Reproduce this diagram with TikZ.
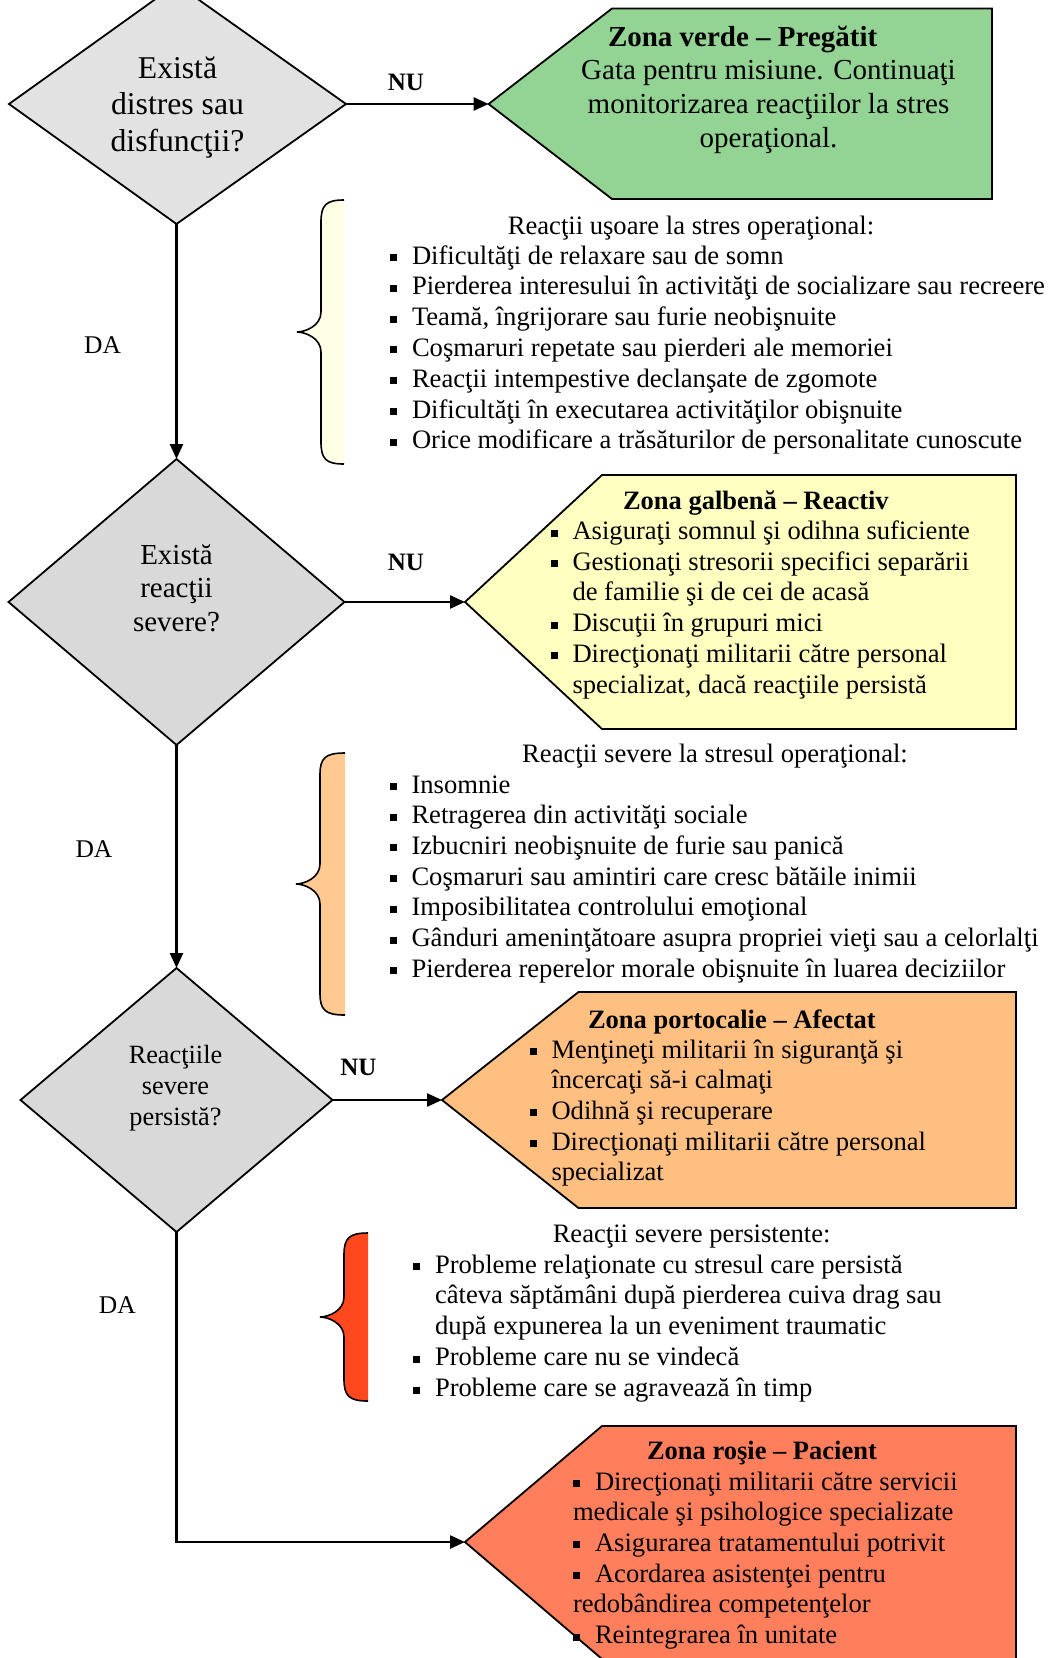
\documentclass[tikz,border=0pt]{standalone}
\usepackage{fontspec}
\setmainfont{Liberation Serif}
\usetikzlibrary{arrows.meta}
\definecolor{greyA}{RGB}{226,226,226}
\definecolor{greyB}{RGB}{217,217,217}
\definecolor{zgreen}{RGB}{147,211,148}
\definecolor{zyellow}{RGB}{255,255,192}
\definecolor{zorange}{RGB}{255,191,128}
\definecolor{zred}{RGB}{255,126,92}
\definecolor{bcream}{RGB}{255,255,230}
\definecolor{borange}{RGB}{255,201,145}
\definecolor{bred}{RGB}{255,72,30}
\newcommand\bul{\makebox[22pt][l]{\rule[3pt]{7pt}{7pt}}}
\newcommand\ind{\hspace*{22pt}}
\newcommand\Lblock[1]{\parbox[t]{700pt}{\raggedright #1}}
\newcommand\Cblock[2]{\parbox[t]{#1}{\centering #2}}
\newcommand\fsz[2]{\fontsize{#1}{#2}\selectfont}
\newcommand\mybrace[7]{%
  \fill[#1] (#2,#5) .. controls ({#3+5},#5) and (#3,{#5+5}) .. (#3,{#5+22})
    -- (#3,{#6-20}) .. controls (#3,{#6-6}) and ({#4+8},#6) .. (#4,#6)
    .. controls ({#4+8},#6) and (#3,{#6+6}) .. (#3,{#6+20})
    -- (#3,{#7-22}) .. controls (#3,{#7-5}) and ({#3+5},#7) .. (#2,#7) -- cycle;
  \draw[braceline] (#2,#5) .. controls ({#3+5},#5) and (#3,{#5+5}) .. (#3,{#5+22})
    -- (#3,{#6-20}) .. controls (#3,{#6-6}) and ({#4+8},#6) .. (#4,#6)
    .. controls ({#4+8},#6) and (#3,{#6+6}) .. (#3,{#6+20})
    -- (#3,{#7-22}) .. controls (#3,{#7-5}) and ({#3+5},#7) .. (#2,#7);
}
\tikzset{
  shapeline/.style={draw=black, line width=1.8pt, line join=miter},
  braceline/.style={draw=black, line width=1.6pt},
  conn/.style={line width=2.4pt, line join=miter, -{Triangle[length=15pt,width=13pt]}},
  txt/.style={inner sep=0pt, outer sep=0pt},
  nulbl/.style={txt, anchor=base, font=\bfseries\fsz{25}{29}},
  dalbl/.style={txt, anchor=base, font=\fsz{25.5}{29}},
  ztitle/.style={txt, anchor=base west, font=\bfseries\fsz{26.5}{30.7}},
  zlist/.style={txt, anchor=base west, font=\fsz{26.6}{30.7}},
}
\begin{document}
\begin{tikzpicture}[x=1pt,y=-1pt]
\useasboundingbox (0,0) rectangle (1048,1658);
\fill[white] (0,0) rectangle (1048,1658);
\clip (0,0) rectangle (1048,1658);

% ---------- coordinates ----------
\coordinate (d1t) at (176.5,-16);
\coordinate (d1r) at (346,104);
\coordinate (d1b) at (176.5,224);
\coordinate (d1l) at (9,104);
\coordinate (d2t) at (176.5,459);
\coordinate (d2r) at (344.5,602);
\coordinate (d2b) at (176.5,745);
\coordinate (d2l) at (8.5,602);
\coordinate (d3t) at (176.5,968);
\coordinate (d3r) at (332.5,1100);
\coordinate (d3b) at (176.5,1232);
\coordinate (d3l) at (20.5,1100);
\coordinate (gtip) at (488.6,104);
\coordinate (ytip) at (465,602);
\coordinate (otip) at (442,1100);
\coordinate (rtip) at (465,1542);
\coordinate (bend) at (176.5,1542);

% ---------- diamonds ----------
\draw[shapeline, fill=greyA] (d1t) -- (d1r) -- (d1b) -- (d1l) -- cycle;
\draw[shapeline, fill=greyB] (d2t) -- (d2r) -- (d2b) -- (d2l) -- cycle;
\draw[shapeline, fill=greyB] (d3t) -- (d3r) -- (d3b) -- (d3l) -- cycle;

% ---------- zone boxes ----------
\draw[shapeline, fill=zgreen] (gtip) -- (612,8.5) -- (992,8.5) -- (992,199) -- (612,199) -- cycle;
\draw[shapeline, fill=zyellow] (ytip) -- (602,475) -- (1016,475) -- (1016,729) -- (602,729) -- cycle;
\draw[shapeline, fill=zorange] (otip) -- (578.5,992) -- (1016,992) -- (1016,1208) -- (578.5,1208) -- cycle;
\draw[shapeline, fill=zred] (rtip) -- (602,1426) -- (1016,1426) -- (1016,1659) -- (602,1659) -- cycle;

% ---------- braces ----------
\mybrace{bcream}{344}{321}{297}{200}{332}{464}
\mybrace{borange}{345}{320}{296}{753}{884}{1015}
\mybrace{bred}{368}{344}{320}{1233}{1317}{1401}

% ---------- diamond texts ----------
\node[txt, anchor=base, font=\fsz{31.7}{36.6}] (q1) at (177.5,78) {\Cblock{330pt}{Există\\distres sau\\disfuncţii?}};
\node[txt, anchor=base, font=\fsz{29}{33.5}] (q2) at (176.5,564) {\Cblock{330pt}{Există\\reacţii\\severe?}};
\node[txt, anchor=base, font=\fsz{26.3}{31.2}] (q3) at (175.5,1063) {\Cblock{300pt}{Reacţiile\\severe\\persistă?}};

% ---------- labels ----------
\node[nulbl] (nu1) at (406,90) {NU};
\node[nulbl] (nu2) at (406,570) {NU};
\node[nulbl] (nu3) at (358.5,1075) {NU};
\node[dalbl] (da1) at (102.6,353) {DA};
\node[dalbl] (da2) at (94,857.5) {DA};
\node[dalbl] (da3) at (117.4,1313.5) {DA};

% ---------- green ----------
\node[txt, anchor=base west, font=\bfseries\fsz{29}{34}] (gt) at (608,46) {Zona verde – Pregătit};
\node[txt, anchor=base, font=\fsz{29}{34}] (gb) at (768.5,79) {\Cblock{420pt}{Gata pentru misiune. Continuaţi\\monitorizarea reacţiilor la stres\\operaţional.}};

% ---------- brace 1 text ----------
\node[txt, anchor=base, font=\fsz{26.6}{30.8}] (h1) at (691,234) {Reacţii uşoare la stres operaţional:};
\node[txt, anchor=base west, font=\fsz{26.6}{30.8}] (l1) at (390,264) {\Lblock{%
\bul Dificultăţi de relaxare sau de somn\\
\bul Pierderea interesului în activităţi de socializare sau recreere\\
\bul Teamă, îngrijorare sau furie neobişnuite\\
\bul Coşmaruri repetate sau pierderi ale memoriei\\
\bul Reacţii intempestive declanşate de zgomote\\
\bul Dificultăţi în executarea activităţilor obişnuite\\
\bul Orice modificare a trăsăturilor de personalitate cunoscute}};

% ---------- yellow ----------
\node[ztitle] (yt) at (623,509) {Zona galbenă – Reactiv};
\node[zlist] (yl) at (550.5,539.5) {\Lblock{%
\bul Asiguraţi somnul şi odihna suficiente\\
\bul Gestionaţi stresorii specifici separării\\
\ind de familie şi de cei de acasă\\
\bul Discuţii în grupuri mici\\
\bul Direcţionaţi militarii către personal\\
\ind specializat, dacă reacţiile persistă}};

% ---------- brace 2 text ----------
\node[txt, anchor=base, font=\fsz{26.6}{30.7}] (h2) at (715,762) {Reacţii severe la stresul operaţional:};
\node[txt, anchor=base west, font=\fsz{26.6}{30.7}] (l2) at (389.5,793) {\Lblock{%
\bul Insomnie\\
\bul Retragerea din activităţi sociale\\
\bul Izbucniri neobişnuite de furie sau panică\\
\bul Coşmaruri sau amintiri care cresc bătăile inimii\\
\bul Imposibilitatea controlului emoţional\\
\bul Gânduri ameninţătoare asupra propriei vieţi sau a celorlalţi\\
\bul Pierderea reperelor morale obişnuite în luarea deciziilor}};

% ---------- orange ----------
\node[ztitle] (ot) at (588,1028) {Zona portocalie – Afectat};
\node[zlist] (ol) at (529.5,1058) {\Lblock{%
\bul Menţineţi militarii în siguranţă şi\\
\ind încercaţi să-i calmaţi\\
\bul Odihnă şi recuperare\\
\bul Direcţionaţi militarii către personal\\
\ind specializat}};

% ---------- brace 3 text ----------
\node[txt, anchor=base, font=\fsz{26.6}{30.9}] (h3) at (691.6,1242) {Reacţii severe persistente:};
\node[txt, anchor=base west, font=\fsz{26.6}{30.9}] (l3) at (413,1273) {\Lblock{%
\bul Probleme relaţionate cu stresul care persistă\\
\ind câteva săptămâni după pierderea cuiva drag sau\\
\ind după expunerea la un eveniment traumatic\\
\bul Probleme care nu se vindecă\\
\bul Probleme care se agravează în timp}};

% ---------- red ----------
\node[ztitle] (rt) at (647,1459.5) {Zona roşie – Pacient};
\node[zlist] (rl) at (573,1490) {\Lblock{%
\bul Direcţionaţi militarii către servicii\\
medicale şi psihologice specializate\\
\bul Asigurarea tratamentului potrivit\\
\bul Acordarea asistenţei pentru\\
redobândirea competenţelor\\
\bul Reintegrarea în unitate}};

% ---------- connectors ----------
\draw[conn] (d1r) -- (gtip);
\draw[conn] (d1b) -- (d2t);
\draw[conn] (d2r) -- (ytip);
\draw[conn] (d2b) -- (d3t);
\draw[conn] (d3r) -- (otip);
\draw[conn] (d3b) -- (bend) -- (rtip);
\end{tikzpicture}
\end{document}
